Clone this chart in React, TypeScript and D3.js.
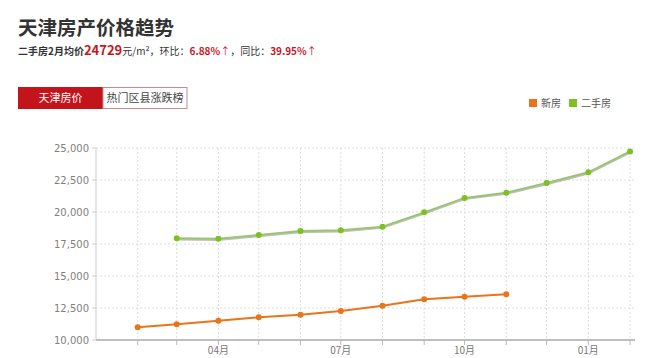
import React from "react";
import * as d3 from "d3";

const months = [
  "2016-02", "2016-03", "2016-04", "2016-05", "2016-06", "2016-07", "2016-08",
  "2016-09", "2016-10", "2016-11", "2016-12", "2017-01", "2017-02",
];
const newHouse = [10990, 11224, 11510, 11771, 11979, 12266, 12682, 13177, 13385, 13568];
const secondHand = [17943, 17914, 18203, 18516, 18570, 18854, 19974, 21100, 21510, 22266, 23100, 24729];
const yTicks = [10000, 12500, 15000, 17500, 20000, 22500, 25000];
const seriesNames = ["新房", "二手房"];
const seriesColors = ["#ea7419", "#7cc11f"];

const parse = d3.timeParse("%Y-%m");
const cjk = "'Noto Sans CJK SC', 'Microsoft YaHei', sans-serif";
const num = "'DejaVu Sans', Verdana, sans-serif";

export default function App() {
  const W = 652, H = 358;
  const left = 96, right = 635, top = 148, bottom = 340;
  const x = d3.scaleTime().domain([parse("2016-01")!, parse("2017-02")!]).range([left, 630]);
  const y = d3.scaleLinear().domain([10000, 25000]).range([bottom, top]);
  const fmt = d3.format(",");

  const newPts = newHouse.map((v, i) => ({ d: parse(months[i])!, v }));
  const oldPts = secondHand.map((v, i) => ({ d: parse(months[i + 1])!, v }));
  const line = d3.line<{ d: Date; v: number }>().x((p) => x(p.d)).y((p) => y(p.v));
  const monthTicks = d3.timeMonth.range(parse("2016-02")!, d3.timeMonth.offset(parse("2017-02")!, 1));
  const labelFmt = d3.timeFormat("%m月");
  const labelled = new Set([3, 6, 9, 0]);

  return (
    <svg width={W} height={H} style={{ position: "absolute", left: 0, top: 0, background: "#fff" }}>
      <text x={18} y={35} fontFamily={cjk} fontSize={19.5} fontWeight="bold" fill="#333">天津房产价格趋势</text>
      <text x={18} y={55} fontFamily={cjk} fontSize={10} fill="#333">
        <tspan fontWeight="bold">二手房2月均价</tspan>
        <tspan fill="#c9151e" fontWeight="bold" fontSize={13}>24729</tspan>
        <tspan>元/m²，环比：</tspan>
        <tspan fill="#c9151e" fontWeight="bold">6.88%</tspan>
        <tspan fill="#c9151e">↑</tspan>
        <tspan>，同比：</tspan>
        <tspan fill="#c9151e" fontWeight="bold">39.95%</tspan>
        <tspan fill="#c9151e">↑</tspan>
      </text>

      <rect x={18} y={87} width={85} height={22} fill="#c4141b" />
      <text x={60.5} y={102} textAnchor="middle" fontFamily={cjk} fontSize={11} fill="#fff">天津房价</text>
      <rect x={103} y={87.5} width={84} height={21} fill="#fff" stroke="#c98a8d" />
      <text x={145} y={102} textAnchor="middle" fontFamily={cjk} fontSize={11} fill="#444">热门区县涨跌榜</text>

      {seriesNames.map((n, i) => {
        const lx = i === 0 ? 529 : 569;
        return (
          <g key={n}>
            <rect x={lx} y={99} width={8} height={8} fill={seriesColors[i]} />
            <text x={lx + 12} y={107} fontFamily={cjk} fontSize={10} fill="#555">{n}</text>
          </g>
        );
      })}

      {yTicks.map((t) => (
        <g key={t}>
          {t > 10000 && (
            <line x1={left} x2={right} y1={y(t)} y2={y(t)} stroke="#ddd" strokeDasharray="2,2" />
          )}
          <line x1={92} x2={left} y1={y(t)} y2={y(t)} stroke="#ccc" />
          <text x={89} y={y(t) + 4} textAnchor="end" fontFamily={num} fontSize={10} fill="#808080">{fmt(t)}</text>
        </g>
      ))}
      {monthTicks.map((d, i) => (
        <g key={i}>
          <line x1={x(d)} x2={x(d)} y1={top} y2={bottom} stroke="#ddd" strokeDasharray="2,2" />
          <line x1={x(d)} x2={x(d)} y1={bottom} y2={bottom + 5} stroke="#bbb" />
          {labelled.has(d.getMonth()) && (
            <text x={x(d)} y={354} textAnchor="middle" fontFamily={cjk} fontSize={10} fill="#777">{labelFmt(d)}</text>
          )}
        </g>
      ))}
      <line x1={left} x2={left} y1={top} y2={bottom} stroke="#ccc" />
      <line x1={left} x2={right} y1={bottom} y2={bottom} stroke="#aaa" strokeWidth={1.5} />

      <path d={line(oldPts)!} fill="none" stroke="rgba(0,0,0,0.25)" strokeWidth={2} transform="translate(0,1.2)" />
      <path d={line(oldPts)!} fill="none" stroke="#9cc470" strokeWidth={2} />
      {oldPts.map((p, i) => (
        <circle key={i} cx={x(p.d)} cy={y(p.v)} r={3} fill={seriesColors[1]} />
      ))}
      <path d={line(newPts)!} fill="none" stroke={seriesColors[0]} strokeWidth={2} />
      {newPts.map((p, i) => (
        <circle key={i} cx={x(p.d)} cy={y(p.v)} r={3} fill={seriesColors[0]} />
      ))}
    </svg>
  );
}
